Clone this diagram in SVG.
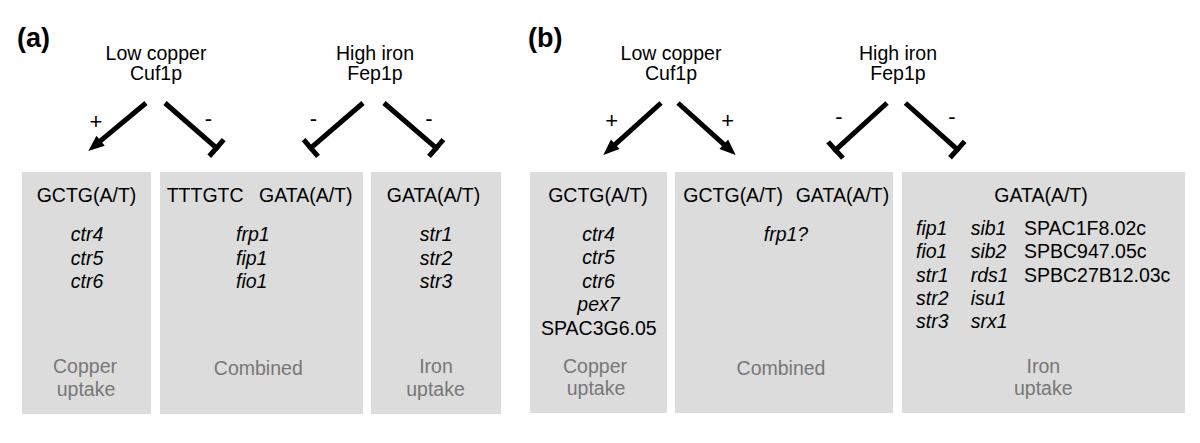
<svg xmlns="http://www.w3.org/2000/svg" width="1200" height="443" viewBox="0 0 1200 443">
<style>
text{font-family:"Liberation Sans",Arial,Helvetica,sans-serif;font-size:19.5px;fill:#000}
.b{font-weight:bold;font-size:27px}
.s{font-size:22px}
.i{font-style:italic}
.g{fill:#777}
.m{text-anchor:middle}
.box{fill:#dcdcdc}
.ln{stroke:#000;stroke-width:5;fill:none;stroke-linecap:butt}
.act{marker-end:url(#arr)}
.inh{marker-end:url(#tee)}
</style>
<defs>
<marker id="arr" markerUnits="userSpaceOnUse" markerWidth="30" markerHeight="30" refX="0" refY="0" orient="auto" style="overflow:visible">
<path d="M-3,-6.5 L13,0 L-3,6.5 Z" fill="#000"/>
</marker>
<marker id="tee" markerUnits="userSpaceOnUse" markerWidth="30" markerHeight="30" refX="0" refY="0" orient="auto" style="overflow:visible">
<path d="M-5,-11 L0,-11 L0,11 L-5,11 Z" fill="#000"/>
</marker>
</defs>
<rect width="1200" height="443" fill="#fff"/>

<g id="panel-a-label"><text class="b" x="17" y="47">(a)</text></g>
<g id="panel-b-label"><text class="b" x="528" y="47">(b)</text></g>

<g id="a-cuf1p"><text class="m" x="156" y="60">Low copper</text><text class="m" x="156" y="80">Cuf1p</text></g>
<g id="a-fep1p"><text class="m" x="375" y="60">High iron</text><text class="m" x="375" y="80">Fep1p</text></g>
<g id="b-cuf1p"><text class="m" x="671" y="60">Low copper</text><text class="m" x="671" y="80">Cuf1p</text></g>
<g id="b-fep1p"><text class="m" x="898" y="60">High iron</text><text class="m" x="898" y="80">Fep1p</text></g>

<g id="connectors">
<line class="ln act" x1="146" y1="103" x2="98.3" y2="142.7"/>
<line class="ln inh" x1="165" y1="103" x2="218.4" y2="149.6"/>
<line class="ln inh" x1="363" y1="103" x2="308.9" y2="149.6"/>
<line class="ln inh" x1="384" y1="103" x2="438.1" y2="149.6"/>
<line class="ln act" x1="661" y1="103" x2="613" y2="146.3"/>
<line class="ln act" x1="678" y1="103" x2="726" y2="146.3"/>
<line class="ln inh" x1="887" y1="103" x2="833.7" y2="151.7"/>
<line class="ln inh" x1="905.4" y1="103" x2="959.2" y2="151.2"/>
<text class="m s" x="96" y="128.5">+</text>
<text class="m s" x="208.3" y="126">-</text>
<text class="m s" x="313.3" y="126">-</text>
<text class="m s" x="429" y="126">-</text>
<text class="m s" x="611.7" y="128.2">+</text>
<text class="m s" x="727.8" y="128.2">+</text>
<text class="m s" x="839" y="124.3">-</text>
<text class="m s" x="952" y="124.3">-</text>
</g>

<g id="a-copper">
<rect class="box" x="22" y="172" width="129" height="242"/>
<text class="m" x="86.5" y="202">GCTG(A/T)</text>
<text class="m i" x="87" y="241">ctr4</text>
<text class="m i" x="87" y="264.5">ctr5</text>
<text class="m i" x="87" y="288">ctr6</text>
<text class="m g" x="85" y="373">Copper</text>
<text class="m g" x="86" y="396">uptake</text>
</g>

<g id="a-combined">
<rect class="box" x="160" y="172" width="203" height="242"/>
<text x="166.7" y="202">TTTGTC</text>
<text x="259" y="202">GATA(A/T)</text>
<text class="i" x="236" y="241">frp1</text>
<text class="i" x="236" y="264.5">fip1</text>
<text class="i" x="236" y="288">fio1</text>
<text class="m g" x="258.3" y="375">Combined</text>
</g>

<g id="a-iron">
<rect class="box" x="371" y="172" width="130" height="242"/>
<text class="m" x="433.5" y="202">GATA(A/T)</text>
<text class="m i" x="436" y="241">str1</text>
<text class="m i" x="436" y="264.5">str2</text>
<text class="m i" x="436" y="288">str3</text>
<text class="m g" x="436" y="373">Iron</text>
<text class="m g" x="435.5" y="396">uptake</text>
</g>

<g id="b-copper">
<rect class="box" x="530" y="172" width="137" height="241"/>
<text class="m" x="598" y="202">GCTG(A/T)</text>
<text class="m i" x="598.5" y="241">ctr4</text>
<text class="m i" x="598.5" y="264.3">ctr5</text>
<text class="m i" x="598.5" y="287.7">ctr6</text>
<text class="m i" x="598.5" y="311">pex7</text>
<text class="m" x="598.8" y="335">SPAC3G6.05</text>
<text class="m g" x="595" y="373">Copper</text>
<text class="m g" x="596" y="395">uptake</text>
</g>

<g id="b-combined">
<rect class="box" x="675" y="172" width="218" height="241"/>
<text x="683.3" y="202">GCTG(A/T)</text>
<text x="795.7" y="202">GATA(A/T)</text>
<text class="m i" x="786" y="241">frp1?</text>
<text class="m g" x="781" y="375">Combined</text>
</g>

<g id="b-iron">
<rect class="box" x="902" y="172" width="283" height="241"/>
<text class="m" x="1041" y="202">GATA(A/T)</text>
<text class="i" x="916" y="235">fip1</text>
<text class="i" x="916" y="258.3">fio1</text>
<text class="i" x="916" y="281.7">str1</text>
<text class="i" x="916" y="305">str2</text>
<text class="i" x="916" y="328.3">str3</text>
<text class="i" x="970.7" y="235">sib1</text>
<text class="i" x="970.7" y="258.3">sib2</text>
<text class="i" x="970.7" y="281.7">rds1</text>
<text class="i" x="970.7" y="305">isu1</text>
<text class="i" x="970.7" y="328.3">srx1</text>
<text x="1024" y="235">SPAC1F8.02c</text>
<text x="1024" y="258.3">SPBC947.05c</text>
<text x="1024" y="281.7">SPBC27B12.03c</text>
<text class="m g" x="1043.3" y="373">Iron</text>
<text class="m g" x="1043.3" y="395">uptake</text>
</g>
</svg>
